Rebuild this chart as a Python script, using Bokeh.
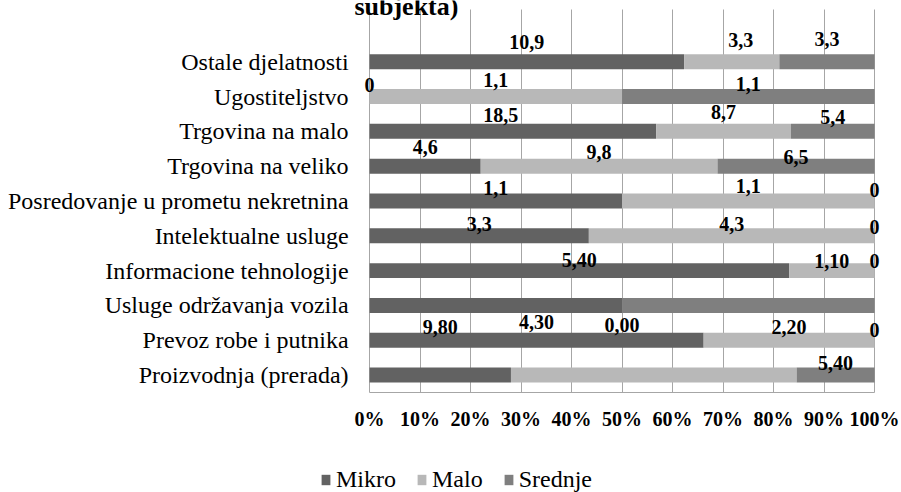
from bokeh.plotting import figure
from bokeh.models import (ColumnDataSource, FixedTicker, Legend, LegendItem,
                          LabelSet, Label, Range1d, PrintfTickFormatter)
from bokeh.core.properties import value
from bokeh.embed import file_html
from bokeh.resources import INLINE

# ---------------- data ----------------
categories = [
    "Ostale djelatnosti",
    "Ugostiteljstvo",
    "Trgovina na malo",
    "Trgovina na veliko",
    "Posredovanje u prometu nekretnina",
    "Intelektualne usluge",
    "Informacione tehnologije",
    "Usluge održavanja vozila",
    "Prevoz robe i putnika",
    "Proizvodnja (prerada)",
]
series_names = ["Mikro", "Malo", "Srednje"]
mikro = [10.9, 0.0, 18.5, 4.6, 1.1, 3.3, 5.4, 1.1, 4.3, 9.8]
malo = [3.3, 1.1, 8.7, 9.8, 1.1, 4.3, 1.1, 0.0, 2.2, 19.8]
srednje = [3.3, 1.1, 5.4, 6.5, 0.0, 0.0, 0.0, 1.1, 0.0, 5.4]

# data labels as printed in the original (None = not shown)
mikro_labels = ["10,9", "0", "18,5", "4,6", "1,1", "3,3", "5,40", None, "4,30", "9,80"]
malo_labels = ["3,3", "1,1", "8,7", "9,8", "1,1", "4,3", "1,10", "0,00", "2,20", None]
srednje_labels = ["3,3", "1,1", "5,4", "6,5", "0", "0", "0", None, "0", "5,40"]

x_ticks = [0, 10, 20, 30, 40, 50, 60, 70, 80, 90, 100]
title_text = "subjekta)"

# ---------------- layout / style ----------------
colors = ["#626262", "#b8b8b8", "#7f7f7f"]
FONT = "Liberation Serif"
W, H = 901, 492
PX_PER_X = 5.05          # px per percent
PX_PER_Y = 34.82         # px per category row
X0_PX = 369.06           # pixel position of 0 %
YBOT_PX = 392.0          # pixel position of the bottom of the plot area
X_START = -X0_PX / PX_PER_X
X_END = X_START + W / PX_PER_X
Y_AXIS = -0.5
Y_PLOT_TOP = 10.5
Y_START = Y_AXIS - (H - YBOT_PX) / PX_PER_Y
Y_END = Y_AXIS + YBOT_PX / PX_PER_Y

# label raise above bar centre (px) and horizontal nudges (px), as placed in the original
mikro_raise = [13, 5, 9, 12, 6, 5, 4, 0, 11, 41]
malo_raise = [15, 10, 12, 7, 8, 5, 3, -27, 6, 0]
srednje_raise = [16, 6, 7, 2, 4, 2, 3, 0, 3, 5]
mikro_dx = [0, 0, -12, 0, 0, 0, 0, 0, 0, 0]
malo_dx = [9, 0, 0, 0, 0, 0, 0, 0, 0, 0]
srednje_dx = [0] * 10

n = len(categories)
ys = [n - 1 - i for i in range(n)]
totals = [a + b + c for a, b, c in zip(mikro, malo, srednje)]
pm = [a / t * 100 for a, t in zip(mikro, totals)]
pl = [b / t * 100 for b, t in zip(malo, totals)]
ps = [c / t * 100 for c, t in zip(srednje, totals)]

src = ColumnDataSource(dict(y=ys, mikro=pm, malo=pl, srednje=ps))

p = figure(width=W, height=H, x_range=Range1d(X_START, X_END), y_range=Range1d(Y_START, Y_END),
           output_backend="svg", toolbar_location=None,
           min_border_left=0, min_border_right=0, min_border_top=0, min_border_bottom=0)
p.outline_line_color = None
p.background_fill_color = "white"

renderers = p.hbar_stack(["mikro", "malo", "srednje"], y="y", height=0.43,
                         color=colors, line_color=None, source=src)

# grid
p.ygrid.grid_line_color = None
p.xgrid.ticker = FixedTicker(ticks=x_ticks)
p.xgrid.grid_line_color = "#a6a6a6"
p.xgrid.grid_line_width = 1
p.xgrid.cross_bounds = (Y_AXIS, Y_PLOT_TOP)

# x axis (drawn at the bottom of the bar area)
p.xaxis.fixed_location = Y_AXIS
p.xaxis.ticker = FixedTicker(ticks=x_ticks)
p.xaxis.bounds = (0, 100)
p.xaxis.formatter = PrintfTickFormatter(format="%d%%")
p.xaxis.major_label_text_font = FONT
p.xaxis.major_label_text_font_style = "bold"
p.xaxis.major_label_text_font_size = "20px"
p.xaxis.major_label_text_color = "black"
p.xaxis.major_tick_out = 0
p.xaxis.major_tick_in = 0
p.xaxis.minor_tick_line_color = None
p.xaxis.axis_line_color = "#a6a6a6"
p.xaxis.major_label_standoff = 15

# y axis (category names) at 0 %
p.yaxis.fixed_location = 0
p.yaxis.ticker = FixedTicker(ticks=ys)
p.yaxis.major_label_overrides = {y: c for y, c in zip(ys, categories)}
p.yaxis.major_label_text_font = FONT
p.yaxis.major_label_text_font_size = "24px"
p.yaxis.major_label_text_color = "black"
p.yaxis.major_tick_out = 0
p.yaxis.major_tick_in = 0
p.yaxis.minor_tick_line_color = None
p.yaxis.axis_line_color = None
p.yaxis.major_label_standoff = 21

# data labels
lx, ly, lt = [], [], []
for i in range(n):
    left = 0.0
    for pct, labs, rz, dx in ((pm, mikro_labels, mikro_raise, mikro_dx),
                              (pl, malo_labels, malo_raise, malo_dx),
                              (ps, srednje_labels, srednje_raise, srednje_dx)):
        if labs[i] is not None:
            lx.append(left + pct[i] / 2 + dx[i] / PX_PER_X)
            ly.append(ys[i] + rz[i] / PX_PER_Y)
            lt.append(labs[i])
        left += pct[i]
lsrc = ColumnDataSource(dict(x=lx, y=ly, text=lt))
labels = LabelSet(x="x", y="y", text="text", source=lsrc,
                  text_font=value(FONT), text_font_style="bold", text_font_size="20px",
                  text_color="black", text_align="center", text_baseline="alphabetic")
p.add_layout(labels)

# cut-off last line of the title
p.add_layout(Label(x=7.3, y=Y_END - 6 / PX_PER_Y, text=title_text, text_font=FONT,
                   text_font_style="bold", text_font_size="26px", text_color="black",
                   text_align="center", text_baseline="alphabetic"))

legend = Legend(items=[LegendItem(label=nm, renderers=[r]) for nm, r in zip(series_names, renderers)],
                orientation="horizontal", location=(320, -1),
                glyph_width=11, glyph_height=13, label_standoff=5, spacing=20,
                padding=0, margin=0, border_line_color=None, background_fill_alpha=0,
                label_text_font=FONT, label_text_font_size="24px", label_text_color="black")
p.add_layout(legend)

open("out.html", "w").write(file_html(p, INLINE))
